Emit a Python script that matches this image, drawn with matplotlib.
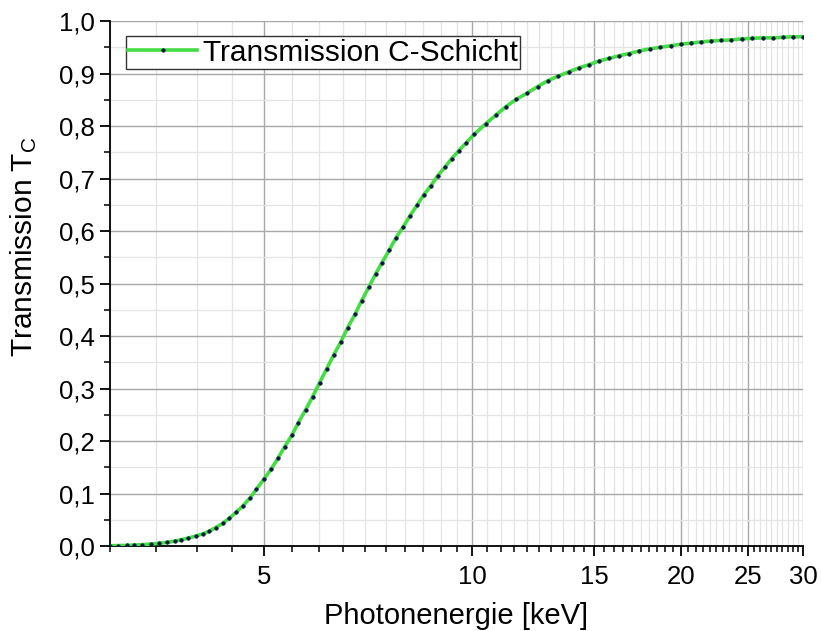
import matplotlib
matplotlib.use("Agg")
import matplotlib.pyplot as plt
from matplotlib.ticker import FixedLocator, NullFormatter

plt.rcParams['font.family'] = ['Liberation Sans', 'DejaVu Sans']
plt.rcParams['mathtext.fontset'] = 'custom'
plt.rcParams['mathtext.rm'] = 'Liberation Sans'
plt.rcParams['mathtext.it'] = 'Liberation Sans:italic'

# Photon energy [keV]
energy = [3.00, 3.08, 3.17, 3.25, 3.34, 3.44, 3.53, 3.62, 3.72, 3.80, 3.89, 3.99,
          4.08, 4.17, 4.26, 4.36, 4.46, 4.56, 4.67, 4.78, 4.88, 5.00, 5.13, 5.24,
          5.36, 5.49, 5.61, 5.75, 5.88, 6.02, 6.16, 6.31, 6.46, 6.61, 6.77, 6.92,
          7.09, 7.25, 7.41, 7.59, 7.76, 7.95, 8.13, 8.33, 8.51, 8.71, 8.91, 9.12,
          9.34, 9.56, 9.78, 10.06, 10.45, 10.82, 11.18, 11.58, 12.01, 12.42, 12.84,
          13.30, 13.77, 14.27, 14.75, 15.25, 15.77, 16.30, 16.85, 17.42, 18.06,
          18.67, 19.37, 20.02, 20.70, 21.41, 22.13, 22.88, 23.65, 24.51, 25.37,
          26.28, 27.18, 28.10, 29.00, 30.00]
# Transmission of the carbon layer
transmission = [0.0005, 0.0008, 0.0012, 0.0018, 0.0026, 0.0037, 0.0050, 0.0068, 0.0092,
                0.012, 0.015, 0.019, 0.023, 0.028, 0.035, 0.043, 0.053, 0.064, 0.077,
                0.092, 0.108, 0.127, 0.147, 0.167, 0.189, 0.211, 0.235, 0.260, 0.284,
                0.311, 0.337, 0.364, 0.389, 0.416, 0.441, 0.467, 0.493, 0.518, 0.540,
                0.564, 0.587, 0.608, 0.629, 0.650, 0.669, 0.686, 0.705, 0.721, 0.738,
                0.753, 0.767, 0.784, 0.804, 0.821, 0.837, 0.851, 0.863, 0.875, 0.886,
                0.895, 0.903, 0.911, 0.917, 0.924, 0.929, 0.934, 0.938, 0.943, 0.947,
                0.950, 0.953, 0.956, 0.958, 0.960, 0.962, 0.963, 0.964, 0.966, 0.967,
                0.968, 0.968, 0.969, 0.970, 0.970]

x_major_ticks = [5, 10, 15, 20, 25, 30]
x_major_labels = ['5', '10', '15', '20', '25', '30']
x_minor_ticks = [3 + 0.5 * i for i in range(55)]
y_major_ticks = [i / 10 for i in range(11)]
y_major_labels = ['0,0', '0,1', '0,2', '0,3', '0,4', '0,5', '0,6', '0,7', '0,8', '0,9', '1,0']
y_minor_ticks = [0.05 + i / 10 for i in range(10)]

fig = plt.figure(figsize=(8.21, 6.31), dpi=100)
ax = fig.add_axes([0.134, 0.1347, 0.844, 0.832])

ax.plot(energy, transmission, color='#44dd44', linewidth=2.6,
        marker='o', markersize=2.6, markerfacecolor='#0b1940',
        markeredgecolor='#0b1940', markeredgewidth=0.4,
        label='Transmission C-Schicht', zorder=3)

ax.set_xscale('log')
ax.set_xlim(3, 30)
ax.set_ylim(0, 1.0)

ax.xaxis.set_major_locator(FixedLocator(x_major_ticks))
ax.set_xticklabels(x_major_labels)
ax.xaxis.set_minor_locator(FixedLocator([t for t in x_minor_ticks if t not in x_major_ticks]))
ax.xaxis.set_minor_formatter(NullFormatter())
ax.yaxis.set_major_locator(FixedLocator(y_major_ticks))
ax.set_yticklabels(y_major_labels)
ax.yaxis.set_minor_locator(FixedLocator(y_minor_ticks))

ax.grid(which='major', color='#a8a8a8', linewidth=1.0)
ax.grid(which='minor', color='#e4e4e4', linewidth=0.9)
ax.set_axisbelow(True)

for s in ['top', 'right']:
    ax.spines[s].set_visible(False)
for s in ['left', 'bottom']:
    ax.spines[s].set_linewidth(1.3)
    ax.spines[s].set_color('black')

ax.tick_params(which='major', direction='out', length=7, width=1.3, labelsize=18.5, pad=4)
ax.tick_params(which='minor', direction='out', length=4, width=1.1)
ax.tick_params(axis='x', pad=7)

ax.set_xlabel('Photonenergie [keV]', fontsize=21, labelpad=9)
ax.set_ylabel('Transmission T$_\\mathrm{C}$', fontsize=21.5)
ax.yaxis.set_label_coords(-0.102, 0.57)

leg = ax.legend(loc='upper left', bbox_to_anchor=(0.023, 0.971), borderaxespad=0,
                fontsize=21.5, frameon=True, fancybox=False, framealpha=1,
                edgecolor='#333333', handlelength=2.3, handletextpad=0.2,
                borderpad=0.08, numpoints=1)
leg.get_frame().set_linewidth(1.0)

fig.savefig('out.png', dpi=100)
